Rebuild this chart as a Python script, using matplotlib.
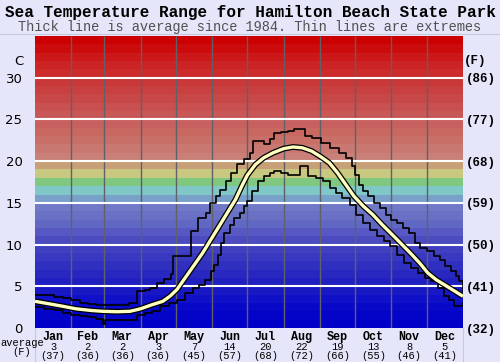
import matplotlib
matplotlib.use("Agg")
import matplotlib.pyplot as plt
from matplotlib.lines import Line2D

# Monthly summary (shown under the chart)
months = ['Jan', 'Feb', 'Mar', 'Apr', 'May', 'Jun', 'Jul', 'Aug', 'Sep', 'Oct', 'Nov', 'Dec']
month_days = [31, 28, 31, 30, 31, 30, 31, 31, 30, 31, 30, 31]
avg_c = [3, 2, 2, 3, 7, 14, 20, 22, 19, 13, 8, 5]
avg_f = [37, 36, 36, 36, 45, 57, 68, 72, 66, 55, 46, 41]

# Axis labels
c_ticks = [0, 5, 10, 15, 20, 25, 30]
f_ticks = [32, 41, 50, 59, 68, 77, 86]

# Average temperature (day of year, deg C)
avg_day = [0, 12, 24, 35, 48, 58, 70, 81, 90, 100, 109, 115, 121, 128, 135, 143, 150,
           157, 164, 171, 177, 181, 188, 195, 203, 212, 220, 228, 236, 244, 251, 258,
           265, 272, 280, 288, 296, 306, 313, 320, 328, 335, 342, 349, 357, 365]
avg_val = [3.2, 2.9, 2.6, 2.3, 2.1, 2.0, 1.95, 2.0, 2.3, 2.8, 3.2, 3.8, 4.6, 6.0, 7.4, 9.0, 10.6,
           12.2, 13.8, 15.4, 17.2, 18.3, 19.6, 20.4, 21.0, 21.5, 21.7, 21.6, 21.2, 20.5, 19.8, 18.6,
           17.2, 15.8, 14.6, 13.6, 12.4, 11.0, 10.0, 9.0, 7.8, 6.6, 5.8, 5.2, 4.5, 3.8]

# Highest recorded (step line)
hi_day = [0, 8, 16, 24, 31, 38, 45, 52, 59, 66, 73, 80, 87, 94, 98, 104, 110, 116, 118, 126,
          133, 139, 146, 149, 154, 158, 163, 167, 172, 178, 183, 186, 190, 195, 200, 204, 210,
          216, 221, 228, 230, 236, 244, 252, 259, 265, 270, 273, 276, 280, 284, 289, 294, 299,
          304, 309, 314, 319, 324, 328, 334, 340, 345, 350, 355, 359, 362, 365]
hi_val = [4.0, 3.9, 3.7, 3.6, 3.3, 3.0, 2.9, 2.8, 2.8, 2.7, 2.8, 3.0, 4.4, 4.5, 4.8, 5.4, 5.9, 6.5, 8.6, 8.6,
          11.6, 13.2, 13.8, 15.0, 15.8, 16.6, 17.6, 18.6, 19.6, 20.2, 21.0, 22.4, 22.4, 22.0, 22.6, 23.4, 23.5,
          23.6, 23.8, 23.8, 23.0, 22.8, 22.2, 21.6, 21.0, 20.4, 19.4, 18.4, 17.2, 16.4, 15.8, 15.0, 14.4, 13.6,
          13.0, 12.6, 12.0, 11.4, 10.2, 9.6, 9.2, 8.6, 8.2, 7.4, 6.8, 6.2, 5.6, 4.4]

# Lowest recorded (step line)
lo_day = [0, 8, 16, 24, 31, 38, 45, 52, 58, 60, 66, 73, 81, 87, 94, 100, 107, 114, 121, 128,
          135, 140, 145, 150, 153, 156, 159, 161, 166, 170, 175, 178, 181, 185, 190, 195, 200,
          204, 210, 216, 222, 226, 230, 233, 240, 246, 252, 257, 262, 269, 274, 280, 286, 292,
          298, 303, 309, 315, 321, 327, 333, 338, 344, 349, 353, 357, 362, 365]
lo_val = [2.5, 2.3, 2.1, 1.8, 1.6, 1.4, 1.3, 1.1, 0.5, 1.0, 0.9, 0.9, 1.0, 1.5, 1.8, 2.0, 2.6, 3.0, 3.4, 4.2,
          4.8, 5.2, 5.8, 6.8, 7.6, 8.8, 10.2, 11.4, 12.4, 13.2, 13.8, 14.6, 15.2, 16.4, 17.6, 18.2, 18.6,
          18.8, 18.6, 18.4, 18.4, 19.4, 19.4, 18.2, 18.0, 17.6, 16.8, 16.2, 15.6, 14.8, 13.6, 12.6, 11.8, 11.0,
          10.4, 9.8, 8.8, 7.8, 7.2, 6.6, 6.0, 5.6, 4.8, 3.8, 3.4, 2.6, 2.6, 3.0]

# one colour per 1 degree band, 0..35 C
band_colors = ['#0000c8', '#0404c8', '#0808c8', '#1010c8', '#1818c4', '#2020c0', '#2828c0',
               '#3030c0', '#3838c0', '#4040c0', '#4c4cc0', '#5858c4', '#6068c4', '#6a70c4',
               '#7078c8', '#78a0c8', '#80c8c8', '#80c880', '#c8c880', '#c8a078', '#c88078',
               '#c87870', '#c87068', '#c86860', '#c86060', '#c85858', '#c85050', '#c84848',
               '#c84040', '#c83838', '#cc2c2c', '#cc2424', '#cc1818', '#cc0c0c', '#cc0000']

bg = '#e6e6fa'
fig = plt.figure(figsize=(5, 3.62), dpi=100, facecolor=bg)
ax = fig.add_axes([0.07, 0.0939, 0.856, 0.8066])

for i, c in enumerate(band_colors):
    ax.axhspan(i, i + 1, color=c, lw=0, zorder=0)

edges = [0]
for d in month_days:
    edges.append(edges[-1] + d)
centers = [(edges[i] + edges[i + 1]) / 2 for i in range(12)]

ax.vlines(edges[1:-1], 0, 35, color='#606068', lw=1, zorder=1)
ax.hlines(c_ticks[1:], 0, 365, color='white', lw=1.5, zorder=2)

ax.step(hi_day, hi_val, where='post', color='black', lw=1.2, zorder=3)
ax.step(lo_day, lo_val, where='post', color='black', lw=1.2, zorder=3)
ax.plot(avg_day, avg_val, color='black', lw=4.2, zorder=4, solid_capstyle='butt')
ax.plot(avg_day, avg_val, color='#ffffc0', lw=2.4, zorder=5, solid_capstyle='butt')

ax.set_xlim(0, 365)
ax.set_ylim(0, 35)
ax.set_xticks([])
ax.set_yticks(c_ticks)
ax.set_yticklabels([str(v) for v in c_ticks], fontsize=9.5, family='DejaVu Sans')
ax.tick_params(axis='y', length=0, pad=9)
for s in ax.spines.values():
    s.set_visible(False)

ax2 = ax.twinx()
ax2.set_ylim(0, 35)
ax2.set_yticks(c_ticks)
ax2.set_yticklabels(['(%d)' % f for f in f_ticks], fontsize=9, family='Liberation Mono', weight='bold')
ax2.tick_params(axis='y', length=0, pad=2)
for s in ax2.spines.values():
    s.set_visible(False)

ax.text(-10, 32, 'C', ha='right', va='center', fontsize=9.5, family='DejaVu Sans')
ax.text(366, 32, '(F)', ha='left', va='center', fontsize=9, family='Liberation Mono', weight='bold')

# month table below the plot
for i in range(12):
    ax.text(centers[i], -1.1, months[i], ha='center', va='center', fontsize=8.5,
            family='Liberation Mono', weight='bold')
    ax.text(centers[i], -2.25, str(avg_c[i]), ha='center', va='center', fontsize=7.5,
            family='Liberation Mono')
    ax.text(centers[i], -3.35, '(%d)' % avg_f[i], ha='center', va='center', fontsize=7.5,
            family='Liberation Mono')
fig.text(0.044, 1 - 343 / 362, 'average', ha='center', va='center', fontsize=7.5, family='Liberation Mono')
fig.text(0.044, 1 - 352 / 362, '(F)', ha='center', va='center', fontsize=7.5, family='Liberation Mono')

fig.text(0.5, 1 - 12 / 362, 'Sea Temperature Range for Hamilton Beach State Park', ha='center', va='center',
         fontsize=11.5, family='Liberation Mono', weight='bold')
fig.text(0.5, 1 - 27 / 362, 'Thick line is average since 1984. Thin lines are extremes', ha='center',
         va='center', fontsize=9.8, family='Liberation Mono', color='#505050')

fig.add_artist(Line2D([0, 1], [1 - 34 / 362, 1 - 34 / 362], color='#c8c8dc', lw=0.8))
fig.add_artist(Line2D([0.07, 0.07], [0, 0.0939], color='#c8c8dc', lw=0.8))
fig.add_artist(Line2D([0.926, 0.926], [0, 0.0939], color='#c8c8dc', lw=0.8))

fig.savefig('out.png', dpi=100, facecolor=bg)
